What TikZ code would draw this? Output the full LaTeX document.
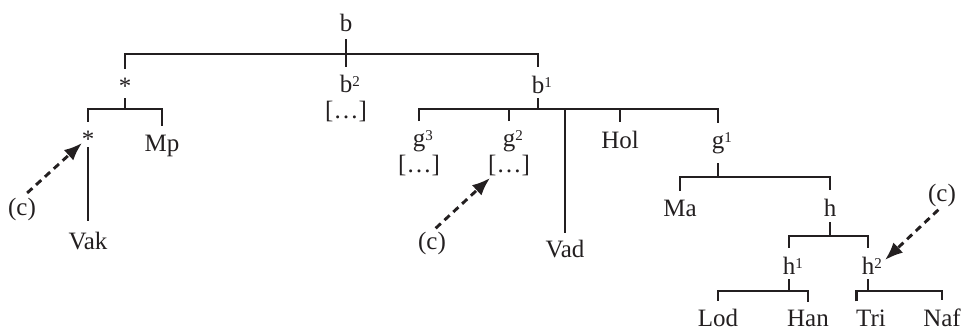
\documentclass[tikz,border=0pt]{standalone}
\usepackage{fontspec}
\setmainfont{Liberation Serif}
\usetikzlibrary{arrows.meta}
\definecolor{ink}{RGB}{35,31,32}
\newcommand{\supr}[1]{\rlap{\raisebox{6pt}{\fontsize{15}{15}\selectfont #1}}}
\begin{document}
\begin{tikzpicture}[x=1pt,y=-1pt,
  lbl/.style={inner sep=0pt, outer sep=0pt, anchor=base, text=ink, font=\fontsize{25}{25}\selectfont},
  clbl/.style={inner sep=0pt, outer sep=0pt, anchor=center, text=ink, font=\fontsize{25}{25}\selectfont},
  tree/.style={line width=2.9pt, draw=ink},
  carrow/.style={line width=2.9pt, draw=ink, dash pattern=on 7pt off 5pt, -{Latex[length=18pt,width=14pt]}}]
\useasboundingbox (0,0) rectangle (964,332);

% nodes
\node[lbl] (b) at (346,31) {b};
\node[lbl] (star1) at (125,94) {*};
\node[lbl] (b2) at (346,92) {b\supr{2}};
\node[lbl] (b2x) at (346,118) {[…]};
\node[lbl] (b1) at (538,93) {b\supr{1}};
\node[lbl] (star2) at (88,147) {*};
\node[lbl] (Mp) at (162,151) {Mp};
\node[lbl] (Vak) at (88,249) {Vak};
\node[lbl] (g3) at (419,146) {g\supr{3}};
\node[lbl] (g3x) at (419,172) {[…]};
\node[lbl] (g2) at (509,146) {g\supr{2}};
\node[lbl] (g2x) at (509,172) {[…]};
\node[lbl] (Vad) at (565,257) {Vad};
\node[lbl] (Hol) at (620,148) {Hol};
\node[lbl] (g1) at (718,148) {g\supr{1}};
\node[lbl] (Ma) at (680,216) {Ma};
\node[lbl] (h) at (830,216) {h};
\node[lbl] (h1) at (789,274) {h\supr{1}};
\node[lbl] (h2) at (868,274) {h\supr{2}};
\node[lbl] (Lod) at (718,326) {Lod};
\node[lbl] (Han) at (808,326) {Han};
\node[lbl] (Tri) at (871,326) {Tri};
\node[lbl] (Naf) at (942,326) {Naf};
\node[clbl] (cL) at (22,209) {(c)};
\node[clbl] (cM) at (432,243) {(c)};
\node[clbl] (cR) at (942,195) {(c)};

% bar coordinates
\coordinate (topbar) at (346,54);
\coordinate (bar2) at (125,109);
\coordinate (b1bar) at (538,109);
\coordinate (g1bar) at (718,177);
\coordinate (hbar) at (830,236);
\coordinate (h1bar) at (789,291);
\coordinate (h2bar) at (868,291);
\coordinate (tipL) at (82,143);
\coordinate (tipM) at (490,178);
\coordinate (tipR) at (885,260);

% tree
\draw[tree, shorten <=8pt, shorten >=8pt] (b.south) -- (b2.north);
\draw[tree, shorten <=9pt, shorten >=9pt] (star1.north) |- (topbar) -| (b1.north);
\draw[tree, shorten <=4pt] (star1.south) -- (bar2);
\draw[tree, shorten <=9pt, shorten >=9pt] (star2.north) |- (bar2) -| (Mp.north);
\draw[tree, shorten >=11pt] (star2.south) -- (Vak.north);
\draw[tree, shorten <=5pt] (b1.south) -- (b1bar);
\draw[tree, shorten <=9pt, shorten >=9pt] (g3.north) |- (b1bar) -| (g1.north);
\draw[tree, shorten <=9pt] (g2.north) -- (g2.north |- b1bar);
\draw[tree, shorten <=7pt] (Vad.north) -- (Vad.north |- b1bar);
\draw[tree, shorten <=9pt] (Hol.north) -- (Hol.north |- b1bar);
\draw[tree, shorten <=10pt] (g1.south) -- (g1bar);
\draw[tree, shorten <=9pt, shorten >=9pt] (Ma.north) |- (g1bar) -| (h.north);
\draw[tree, shorten <=6pt] (h.south) -- (hbar);
\draw[tree, shorten <=9pt, shorten >=9pt] (h1.north) |- (hbar) -| (h2.north);
\draw[tree, shorten <=5pt] (h1.south) -- (h1bar);
\draw[tree, shorten <=5pt] (h2.south) -- (h2bar);
\draw[tree, shorten <=8pt, shorten >=8pt] (Lod.north) |- (h1bar) -| (Han.north);
\draw[tree, shorten <=8pt, shorten >=8pt] (Tri.north west) |- (h2bar) -| (Naf.north);

% dashed arrows
\draw[carrow, shorten <=7pt] (cL.north) -- (tipL);
\draw[carrow, shorten <=5pt] (cM.north) -- (tipM);
\draw[carrow, shorten <=5pt] (cR.south) -- (tipR);
\end{tikzpicture}
\end{document}
